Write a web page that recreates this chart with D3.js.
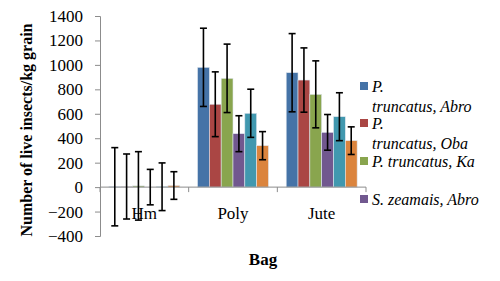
<!DOCTYPE html>
<html>
<head>
<meta charset="utf-8">
<script src="https://cdn.jsdelivr.net/npm/d3@7"></script>
<style>
  body { margin: 0; background: #fff; }
</style>
</head>
<body>
<div id="chart"></div>
<script>
// Bag types on the x axis
const bags = ["Hm", "Poly", "Jute"];

// Insect / strain series (legend only shows what fits)
const seriesNames = [
    "P. truncatus, Abro",
    "P. truncatus, Oba",
    "P. truncatus, Ka",
    "S. zeamais, Abro",
    "S. zeamais, Oba",
    "S. zeamais, Ka"
];
const legendLines = [
    ["P.", "truncatus, Abro"],
    ["P.", "truncatus, Oba"],
    ["P. truncatus, Ka"],
    ["S. zeamais, Abro"]
];
const colors = ["#4573a7", "#aa4644", "#89a54e", "#71588f", "#4198af", "#db843d"];

// Mean live insects per kg grain, one array per bag, in series order
const hmValues = [3, 5, 10, 0, 3, 13];
const polyValues = [980, 678, 890, 437, 604, 339];
const juteValues = [936, 876, 759, 448, 576, 380];

// Error bar half-widths
const hmErrors = [320, 266, 280, 145, 195, 113];
const polyErrors = [320, 265, 280, 147, 197, 115];
const juteErrors = [320, 263, 274, 146, 196, 113];

const yTicks = [-400, -200, 0, 200, 400, 600, 800, 1000, 1200, 1400];

const valuesByBag = [hmValues, polyValues, juteValues];
const errorsByBag = [hmErrors, polyErrors, juteErrors];

const FONT = "Liberation Serif";

const width = 500, height = 281;
const svg = d3.select("#chart").append("svg")
    .attr("width", width)
    .attr("height", height)
    .attr("font-family", FONT);

// Scales
const x = d3.scaleBand().domain(bags).range([100, 366]);
const xInner = d3.scaleBand()
    .domain(d3.range(seriesNames.length))
    .range([x.bandwidth() * 0.1, x.bandwidth() * 0.9]);
const y = d3.scaleLinear().domain([-400, 1400]).range([236, 16]);

// Bars
bags.forEach((bag, bi) => {
    const g = svg.append("g").attr("transform", "translate(" + x(bag) + ",0)");
    const rows = valuesByBag[bi].map((v, si) => ({ v: v, e: errorsByBag[bi][si], si: si }));

    g.selectAll("rect")
        .data(rows)
        .enter()
        .append("rect")
        .attr("x", d => xInner(d.si))
        .attr("width", xInner.bandwidth())
        .attr("y", d => y(Math.max(d.v, 0)))
        .attr("height", d => Math.abs(y(d.v) - y(0)))
        .attr("fill", d => colors[d.si])
        .attr("stroke", "#dfe6ee")
        .attr("stroke-width", 0.6);
});

// Y axis
const yAxis = svg.append("g")
    .attr("transform", "translate(100,0)")
    .call(d3.axisLeft(y).tickValues(yTicks).tickSize(5).tickPadding(12).tickFormat(d3.format("d")));
yAxis.attr("font-family", FONT).attr("font-size", 17);
yAxis.select(".domain").attr("stroke", "#8c8c8c");
yAxis.selectAll(".tick line").attr("stroke", "#8c8c8c");
yAxis.selectAll(".tick text")
    .attr("fill", "#000")
    .attr("font-family", FONT);

// X axis line at zero, with ticks on the category boundaries
const xAxis = svg.append("g");
xAxis.append("line")
    .attr("x1", x.range()[0]).attr("x2", x.range()[1])
    .attr("y1", y(0)).attr("y2", y(0))
    .attr("stroke", "#8c8c8c");
const boundaries = bags.map(b => x(b)).concat([x.range()[1]]);
xAxis.selectAll(".btick")
    .data(boundaries)
    .enter()
    .append("line")
    .attr("x1", d => d).attr("x2", d => d)
    .attr("y1", y(0)).attr("y2", y(0) + 5)
    .attr("stroke", "#8c8c8c");

// Error bars (drawn over the axis)
bags.forEach((bag, bi) => {
    const g = svg.append("g").attr("transform", "translate(" + x(bag) + ",0)");
    const rows = valuesByBag[bi].map((v, si) => ({ v: v, e: errorsByBag[bi][si], si: si }));
    const cx = d => xInner(d.si) + xInner.bandwidth() / 2;
    const eb = g.selectAll(".err").data(rows).enter().append("g").attr("stroke", "#000").attr("stroke-width", 1.6);
    eb.append("line").attr("x1", cx).attr("x2", cx)
        .attr("y1", d => y(d.v + d.e)).attr("y2", d => y(d.v - d.e));
    eb.append("line").attr("x1", d => cx(d) - 3.5).attr("x2", d => cx(d) + 3.5)
        .attr("y1", d => y(d.v + d.e)).attr("y2", d => y(d.v + d.e));
    eb.append("line").attr("x1", d => cx(d) - 3.5).attr("x2", d => cx(d) + 3.5)
        .attr("y1", d => y(d.v - d.e)).attr("y2", d => y(d.v - d.e));
});

// Category labels
svg.selectAll(".cat")
    .data(bags)
    .enter()
    .append("text")
    .attr("x", d => x(d) + x.bandwidth() / 2)
    .attr("y", 219)
    .attr("text-anchor", "middle")
    .attr("font-family", FONT)
    .attr("font-size", 17)
    .text(d => d);

// Axis titles
svg.append("text")
    .attr("transform", "translate(32,130) rotate(-90)")
    .attr("text-anchor", "middle")
    .attr("font-family", FONT)
    .attr("font-size", 16)
    .attr("font-weight", "bold")
    .text("Number of live insects/kg grain");

svg.append("text")
    .attr("x", 263)
    .attr("y", 265)
    .attr("text-anchor", "middle")
    .attr("font-family", FONT)
    .attr("font-size", 17)
    .attr("font-weight", "bold")
    .text("Bag");

// Legend
const legendBaselines = [[92, 112], [129, 149], [167], [205]];
const legend = svg.append("g");
legendLines.forEach((lines, i) => {
    legend.append("rect")
        .attr("x", 360).attr("y", legendBaselines[i][0] - 10)
        .attr("width", 8).attr("height", 8)
        .attr("fill", colors[i]);
    lines.forEach((ln, li) => {
        legend.append("text")
            .attr("x", 372)
            .attr("y", legendBaselines[i][li])
            .attr("font-family", FONT)
            .attr("font-size", 16)
            .attr("font-style", "italic")
            .text(ln);
    });
});
</script>
</body>
</html>
